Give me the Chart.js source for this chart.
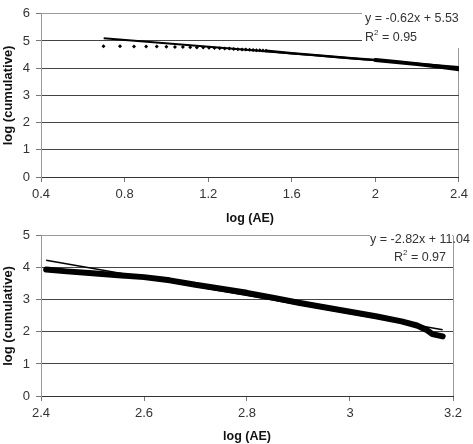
<!DOCTYPE html>
<html>
<head>
<meta charset="utf-8">
<script src="https://cdn.jsdelivr.net/npm/chart.js@4.4.1/dist/chart.umd.min.js"></script>
<style>
  html, body { margin: 0; padding: 0; background: #fff; }
  #wrap { position: relative; width: 473px; height: 444px; overflow: hidden; }
  canvas { position: absolute; left: 0; }
  #top-chart { top: 0; }
  #bottom-chart { top: 222px; }
</style>
</head>
<body>
<div id="wrap">
  <canvas id="top-chart" width="473" height="226"></canvas>
  <canvas id="bottom-chart" width="473" height="222"></canvas>
</div>
<script>
// upper panel - the separate markers at small AE
const topPointX = [0.699, 0.778, 0.845, 0.903, 0.954, 1.000, 1.041, 1.079, 1.114, 1.146, 1.176, 1.204, 1.230,
    1.255, 1.279, 1.301, 1.322, 1.342, 1.362, 1.380, 1.398, 1.415, 1.431, 1.447, 1.462, 1.477]
const topPointY = [4.81, 4.81, 4.80, 4.80, 4.80, 4.79, 4.78, 4.78, 4.77, 4.76, 4.76, 4.75, 4.74,
    4.73, 4.72, 4.72, 4.71, 4.70, 4.69, 4.69, 4.68, 4.67, 4.66, 4.66, 4.65, 4.64]
// where the markers run together into a solid band
const topBandX = [1.477, 1.6, 1.7, 1.8, 1.9, 2.0]
const topBandY = [4.64, 4.55, 4.49, 4.42, 4.36, 4.30]
const topEndX = [2.0, 2.1, 2.2, 2.3, 2.4]
const topEndY = [4.30, 4.23, 4.15, 4.06, 3.96]
const topFitX = [0.70, 2.40]
const topFitY = [5.10, 4.04]
const topXTicks = [0.4, 0.8, 1.2, 1.6, 2, 2.4]
const topYTicks = [0, 1, 2, 3, 4, 5, 6]

// lower panel
const bottomX = [2.41, 2.45, 2.50, 2.55, 2.60, 2.65, 2.70, 2.75, 2.80, 2.85, 2.90, 2.95, 3.00, 3.05, 3.10, 3.13, 3.15, 3.16, 3.18]
const bottomY = [3.95, 3.89, 3.83, 3.77, 3.71, 3.61, 3.47, 3.35, 3.22, 3.07, 2.91, 2.77, 2.63, 2.49, 2.33, 2.20, 2.05, 1.93, 1.86]
const bottomFitX = [2.41, 3.18]
const bottomFitY = [4.24, 2.07]
const bottomXTicks = [2.4, 2.6, 2.8, 3, 3.2]
const bottomYTicks = [0, 1, 2, 3, 4, 5]

const family = "'Liberation Sans', Arial, sans-serif"
const pairs = (xs, ys) => xs.map((x, i) => ({ x, y: ys[i] }))

const fixedTicks = values => scale => { scale.ticks = values.map(v => ({ value: v })) }

function axes(xTicks, yTicks, xAxisHeight) {
    const xLast = xTicks[xTicks.length - 1]
    const yLast = yTicks[yTicks.length - 1]
    return {
        x: {
            type: 'linear',
            min: xTicks[0],
            max: xLast,
            afterBuildTicks: fixedTicks(xTicks),
            afterFit: s => { s.height = xAxisHeight },
            grid: {
                color: c => (c.tick && c.tick.value === xLast) ? '#9a9a9a' : 'rgba(0,0,0,0)',
                tickColor: '#777',
                tickLength: 5
            },
            border: { color: '#333' },
            ticks: { color: '#333', font: { family, size: 13 }, padding: 5, maxRotation: 0, callback: v => String(v) },
            title: { display: true, text: 'log (AE)', color: '#111', font: { family, size: 12.5, weight: 'bold' }, padding: { top: 0, bottom: 0 } }
        },
        y: {
            type: 'linear',
            min: yTicks[0],
            max: yLast,
            afterBuildTicks: fixedTicks(yTicks),
            afterFit: s => { s.width = 41 },
            grid: {
                color: c => (c.tick && c.tick.value === yLast) ? '#9a9a9a' : '#444',
                tickColor: '#777',
                tickLength: 5
            },
            border: { color: '#9a9a9a' },
            ticks: { color: '#333', font: { family, size: 13 }, padding: 6, callback: v => String(v) },
            title: { display: true, text: 'log (cumulative)', color: '#111', font: { family, size: 13, weight: 'bold' }, padding: { top: 1, bottom: 0 } }
        }
    }
}

// trendline equation + R squared, drawn over the plot like the spreadsheet label
const equationLabel = {
    id: 'equationLabel',
    afterDraw(chart, args, opts) {
        const ctx = chart.ctx
        ctx.save()
        if (opts.box) {
            ctx.fillStyle = '#fff'
            ctx.fillRect(opts.box[0], opts.box[1], opts.box[2], opts.box[3])
        }
        ctx.fillStyle = '#333'
        ctx.textBaseline = 'middle'
        const main = `12.5px ${family}`
        const sup = `8px ${family}`
        ctx.font = main
        ctx.textAlign = 'left'
        const w1 = ctx.measureText(opts.equation).width
        let x1 = opts.align === 'center' ? opts.cx - w1 / 2 : opts.cx
        ctx.fillText(opts.equation, x1, opts.y1)

        const rest = ' = ' + opts.r2
        const wR = ctx.measureText('R').width
        const wRest = ctx.measureText(rest).width
        ctx.font = sup
        const w2 = ctx.measureText('2').width
        const total = wR + w2 + wRest
        let x2 = opts.align === 'center' ? opts.cx - total / 2 : opts.cx
        ctx.font = main
        ctx.fillText('R', x2, opts.y2)
        ctx.font = sup
        ctx.fillText('2', x2 + wR, opts.y2 - 5)
        ctx.font = main
        ctx.fillText(rest, x2 + wR + w2, opts.y2)
        ctx.restore()
    }
}

new Chart(document.getElementById('top-chart'), {
    type: 'scatter',
    data: {
        datasets: [
            {
                data: pairs(topPointX, topPointY),
                pointStyle: 'rectRot',
                pointRadius: 2,
                backgroundColor: '#000',
                borderWidth: 0,
                showLine: false
            },
            {
                data: pairs(topBandX, topBandY),
                showLine: true,
                pointRadius: 0,
                borderColor: '#000',
                borderWidth: 2.5,
                borderCapStyle: 'round'
            },
            {
                data: pairs(topEndX, topEndY),
                showLine: true,
                pointRadius: 0,
                borderColor: '#000',
                borderWidth: 4,
                borderCapStyle: 'round'
            },
            {
                data: pairs(topFitX, topFitY),
                showLine: true,
                pointRadius: 0,
                borderColor: '#000',
                borderWidth: 2
            }
        ]
    },
    options: {
        responsive: false,
        animation: false,
        layout: { padding: { top: 11, right: 12, left: 0, bottom: 0 } },
        scales: axes(topXTicks, topYTicks, 49),
        plugins: {
            legend: { display: false },
            tooltip: { enabled: false },
            equationLabel: {
                equation: 'y = -0.62x + 5.53', r2: '0.95',
                align: 'left', cx: 365, y1: 19, y2: 38,
                box: [362, 12, 97, 36]
            }
        }
    },
    plugins: [equationLabel]
})

new Chart(document.getElementById('bottom-chart'), {
    type: 'scatter',
    data: {
        datasets: [
            {
                data: pairs(bottomX, bottomY),
                showLine: true,
                pointRadius: 0,
                borderColor: '#000',
                borderWidth: 6,
                borderCapStyle: 'round',
                borderJoinStyle: 'round'
            },
            {
                data: pairs(bottomFitX, bottomFitY),
                showLine: true,
                pointRadius: 0,
                borderColor: '#000',
                borderWidth: 1.5
            }
        ]
    },
    options: {
        responsive: false,
        animation: false,
        layout: { padding: { top: 11, right: 20, left: 0, bottom: 0 } },
        scales: axes(bottomXTicks, bottomYTicks, 48),
        plugins: {
            legend: { display: false },
            tooltip: { enabled: false },
            equationLabel: {
                equation: 'y = -2.82x + 11.04', r2: '0.97',
                align: 'center', cx: 420, y1: 18, y2: 36,
                box: [370, 9, 82, 33]
            }
        }
    },
    plugins: [equationLabel]
})
</script>
</body>
</html>
